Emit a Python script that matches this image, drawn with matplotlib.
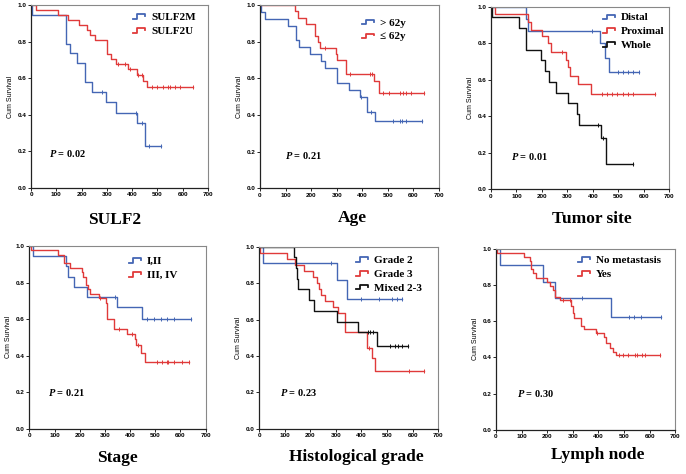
import numpy as np
import matplotlib
matplotlib.use("Agg")
import matplotlib.pyplot as plt
from matplotlib.legend_handler import HandlerBase
from matplotlib.lines import Line2D

plt.rcParams['mathtext.fontset'] = 'custom'
plt.rcParams['mathtext.it'] = 'Liberation Serif:italic:bold'
plt.rcParams['mathtext.rm'] = 'Liberation Serif:bold'

BLUE = "#4466b4"
RED = "#e03a3a"
BLACK = "#111111"

# ---------------- data ----------------
# Panel 1: SULF2
sulf2m_t = [5, 140, 155, 180, 215, 240, 295, 335, 420, 451]
sulf2m_s = [0.947, 0.789, 0.737, 0.684, 0.579, 0.526, 0.468, 0.409, 0.355, 0.227]
sulf2m_c = [282, 416, 438, 466, 515]
sulf2u_t = [20, 108, 145, 190, 222, 233, 253, 299, 316, 338, 384, 420, 444, 457]
sulf2u_s = [0.973, 0.946, 0.919, 0.892, 0.865, 0.838, 0.811, 0.73, 0.703, 0.676, 0.65, 0.615, 0.585, 0.55]
sulf2u_c = [345, 371, 391, 424, 438, 477, 497, 523, 543, 549, 569, 589, 639]

# Panel 2: Age
old_t = [5, 20, 110, 140, 153, 195, 237, 254, 302, 347, 390, 419, 451]
old_s = [0.962, 0.923, 0.885, 0.808, 0.769, 0.731, 0.692, 0.654, 0.577, 0.538, 0.5, 0.415, 0.365]
old_c = [395, 435, 520, 546, 555, 572, 635]
young_t = [137, 150, 180, 215, 225, 234, 297, 302, 338, 445, 465]
young_s = [0.966, 0.931, 0.897, 0.833, 0.8, 0.767, 0.733, 0.7, 0.623, 0.585, 0.52]
young_c = [256, 351, 430, 438, 480, 505, 546, 559, 572, 592, 640]

# Panel 3: Tumor site
distal_t = [137, 147, 428, 448, 464]
distal_s = [0.935, 0.867, 0.8, 0.72, 0.643]
distal_c = [395, 500, 519, 539, 559, 580]
prox_t = [16, 146, 157, 200, 222, 236, 294, 303, 311, 340, 392]
prox_s = [0.958, 0.917, 0.875, 0.84, 0.8, 0.754, 0.708, 0.67, 0.62, 0.575, 0.52]
prox_c = [278, 434, 454, 474, 494, 519, 539, 559, 645]
whole_t = [5, 109, 137, 196, 213, 229, 255, 303, 336, 347, 432, 451]
whole_s = [0.941, 0.882, 0.765, 0.706, 0.647, 0.588, 0.529, 0.471, 0.412, 0.353, 0.282, 0.141]
whole_c = [421, 440, 558]

# Panel 4: Stage
st12_t = [16, 146, 152, 178, 228, 347, 447]
st12_s = [0.944, 0.889, 0.833, 0.778, 0.722, 0.667, 0.603]
st12_c = [339, 467, 496, 523, 547, 574, 640]
st34_t = [5, 112, 139, 161, 208, 214, 225, 232, 241, 275, 304, 310, 337, 386, 418, 424, 442, 461]
st34_s = [0.976, 0.952, 0.905, 0.881, 0.857, 0.833, 0.786, 0.762, 0.738, 0.714, 0.69, 0.6, 0.548, 0.521, 0.49, 0.46, 0.415, 0.365]
st34_c = [279, 355, 408, 430, 507, 527, 547, 550, 574, 607, 634]

# Panel 5: Histological grade
g2_t = [17, 306, 345]
g2_s = [0.909, 0.818, 0.712]
g2_c = [280, 398, 468, 520, 540, 557]
g3_t = [5, 111, 140, 176, 212, 228, 235, 244, 257, 290, 310, 336, 420, 440, 453]
g3_s = [0.967, 0.933, 0.9, 0.867, 0.833, 0.8, 0.767, 0.733, 0.7, 0.667, 0.633, 0.533, 0.444, 0.39, 0.317]
g3_c = [430, 587, 644]
mix_t = [138, 144, 148, 154, 196, 215, 306, 388, 462]
mix_s = [0.941, 0.882, 0.824, 0.765, 0.706, 0.647, 0.588, 0.529, 0.453]
mix_c = [427, 433, 446, 511, 531, 544, 557, 580]

# Panel 6: Lymph node
nometa_t = [16, 182, 230, 448]
nometa_s = [0.909, 0.818, 0.727, 0.623]
nometa_c = [335, 519, 540, 567, 644]
yes_t = [5, 108, 133, 137, 146, 155, 198, 212, 221, 230, 250, 293, 299, 303, 332, 345, 390, 422, 429, 445, 458, 467]
yes_s = [0.977, 0.955, 0.932, 0.886, 0.864, 0.841, 0.818, 0.795, 0.773, 0.736, 0.718, 0.684, 0.647, 0.62, 0.574, 0.555, 0.537, 0.515, 0.482, 0.45, 0.432, 0.414]
yes_c = [262, 287, 395, 481, 497, 514, 543, 549, 569, 582, 640]

W, H = 686, 474

# layout (pixel boxes) : left, top, right, bottom of the plotting area
panels = [
    dict(title="SULF2", p="0.02", pxy=(72, 0.19),
         series=[("SULF2M", sulf2m_t, sulf2m_s, sulf2m_c, BLUE),
                 ("SULF2U", sulf2u_t, sulf2u_s, sulf2u_c, RED)],
         box=(31, 5, 208, 188), leg=(151, 17), tx=115, ty=220),
    dict(title="Age", p="0.21", pxy=(97, 0.18),
         series=[("> 62y", old_t, old_s, old_c, BLUE),
                 ("\u2264 62y", young_t, young_s, young_c, RED)],
         box=(260, 5, 439, 188.3), leg=(380, 22.5), tx=352, ty=218),
    dict(title="Tumor site", p="0.01", pxy=(78, 0.18),
         series=[("Distal", distal_t, distal_s, distal_c, BLUE),
                 ("Proximal", prox_t, prox_s, prox_c, RED),
                 ("Whole", whole_t, whole_s, whole_c, BLACK)],
         box=(491, 6.7, 669.3, 189.3), leg=(621, 17.3), tx=592, ty=219),
    dict(title="Stage", p="0.21", pxy=(75, 0.2),
         series=[("I,II", st12_t, st12_s, st12_c, BLUE),
                 ("III, IV", st34_t, st34_s, st34_c, RED)],
         box=(29.3, 246, 205.7, 428.7), leg=(147, 261), tx=117, ty=458),
    dict(title="Histological grade", p="0.23", pxy=(82, 0.2),
         series=[("Grade 2", g2_t, g2_s, g2_c, BLUE),
                 ("Grade 3", g3_t, g3_s, g3_c, RED),
                 ("Mixed 2-3", mix_t, mix_s, mix_c, BLACK)],
         box=(259, 246.7, 438.3, 428.7), leg=(374, 260), tx=356, ty=457),
    dict(title="Lymph node", p="0.30", pxy=(82, 0.2),
         series=[("No metastasis", nometa_t, nometa_s, nometa_c, BLUE),
                 ("Yes", yes_t, yes_s, yes_c, RED)],
         box=(496, 248.7, 675.3, 430), leg=(596, 260), tx=598, ty=455),
]


class StepHandler(HandlerBase):
    def create_artists(self, legend, orig_handle, xdescent, ydescent,
                       width, height, fontsize, trans):
        x0, y0 = -xdescent, -ydescent
        xs = np.array([0.0, 0.3, 0.3, 1.0, 1.0]) * width + x0
        ys = np.array([0.15, 0.15, 0.75, 0.75, 0.5]) * height + y0
        ln = Line2D(xs, ys, color=orig_handle.get_color(), lw=1.3)
        ln.set_transform(trans)
        return [ln]


LEG_FS = 8.0
fs_px = LEG_FS * 100 / 72.0
BP, HL, HTP = 0.2, 1.1, 0.5

fig = plt.figure(figsize=(W / 100, H / 100), dpi=100)

for pn in panels:
    l, t, r, b = pn["box"]
    ax = fig.add_axes([l / W, 1 - b / H, (r - l) / W, (b - t) / H])
    handles = []
    for label, tt_, s, c, col in pn["series"]:
        end = max([tt_[-1]] + c)
        xs = [0] + list(tt_) + [end]
        ys = [1.0] + list(s) + [s[-1]]
        h, = ax.step(xs, ys, where="post", color=col, lw=1.0, label=label)
        handles.append(h)
        tt = np.array(tt_)
        ss = np.array([1.0] + list(s))
        cy = ss[np.searchsorted(tt, np.array(c), side="right")]
        ax.plot(c, cy, ls="none", marker="|", ms=3.2, mew=0.7, color=col)
    ax.set_xlim(0, 700)
    ax.set_ylim(0, 1.0)
    ax.set_xticks(np.arange(0, 701, 100))
    ax.set_yticks(np.arange(0, 1.01, 0.2))
    ax.set_yticklabels([f"{v:.1f}" for v in np.arange(0, 1.01, 0.2)])
    ax.tick_params(labelsize=4.6, length=2, width=0.6, pad=1.2)
    for lab in ax.get_xticklabels() + ax.get_yticklabels():
        lab.set_fontweight("bold")
        lab.set_family("Liberation Sans")
    ax.set_ylabel("Cum Survival", fontsize=5, family="Liberation Sans", labelpad=3)
    for sp in ["left", "bottom"]:
        ax.spines[sp].set_color("#222222")
        ax.spines[sp].set_linewidth(0.9)
    for sp in ["top", "right"]:
        ax.spines[sp].set_color("#888888")
        ax.spines[sp].set_linewidth(0.8)
    ax.text(pn["pxy"][0], pn["pxy"][1], r"$P$ = " + pn["p"], fontsize=7.5,
            family="Liberation Serif", fontweight="bold", va="center", ha="left")
    # legend anchor (pixel -> axes fraction)
    lx_px = pn["leg"][0] - (BP + HL + HTP) * fs_px
    ly_px = pn["leg"][1] - (BP * fs_px + 0.42 * fs_px)
    ax.legend(handles=handles, handler_map={h: StepHandler() for h in handles},
              loc="upper left",
              bbox_to_anchor=((lx_px - l) / (r - l), 1 - (ly_px - t) / (b - t)),
              frameon=False,
              prop=dict(family="Liberation Serif", weight="bold", size=LEG_FS),
              handlelength=HL, handleheight=0.7, handletextpad=HTP,
              labelspacing=0.36, borderaxespad=0, borderpad=BP)
    fig.text(pn["tx"] / W, 1 - pn["ty"] / H, pn["title"], fontsize=12.5,
             family="Liberation Serif", fontweight="bold", ha="center", va="center")

fig.savefig("out.png", dpi=100)
